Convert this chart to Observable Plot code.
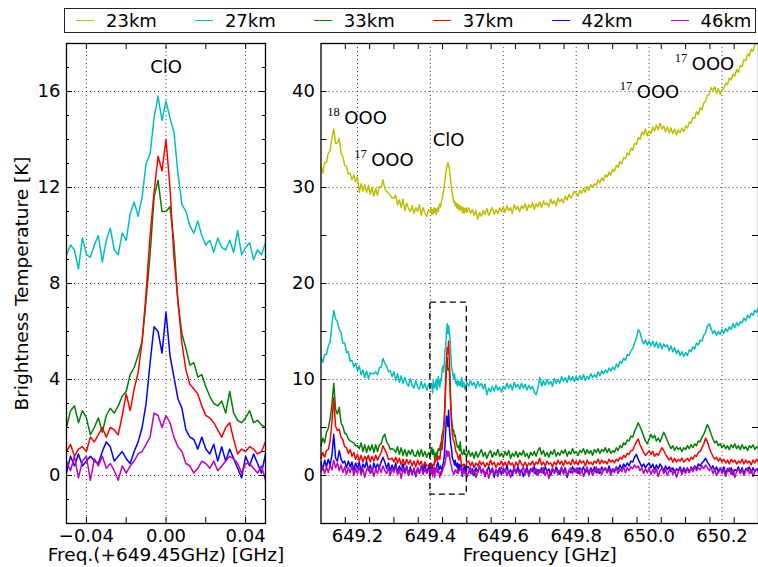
<!DOCTYPE html>
<html>
<head>
<meta charset="utf-8">
<script src="https://cdn.jsdelivr.net/npm/d3@7"></script>
<script src="https://cdn.jsdelivr.net/npm/@observablehq/plot@0.6"></script>
<style>
  body { margin: 0; background: #fff; font-family: "DejaVu Sans", sans-serif; }
  #chart { position: relative; width: 758px; height: 567px; overflow: hidden; background: #fff; }
  #chart svg { position: absolute; top: 0; }
  #chart svg text { -webkit-font-smoothing: antialiased; }
  #legend { position: absolute; left: 64px; top: 8px; width: 692px; height: 25px;
            border: 1.5px solid #222; box-sizing: border-box; background: #fff; z-index: 2; }
  #legend .item { position: absolute; top: 0; height: 100%; display: flex; align-items: center;
                  font-size: 18px; color: #000; white-space: nowrap; }
  #legend .swatch { display: inline-block; width: 18px; height: 0; border-top: 1.3px solid; margin-right: 12px; }
</style>
</head>
<body>
<div id="chart"><div id="legend"></div></div>
<script>
// Limb spectra around the 649.45 GHz ClO line, one curve per tangent altitude.
const altitudes = ["23km", "27km", "33km", "37km", "42km", "46km"];
const altitudeColors = ["#bfbf00", "#00bfbf", "#008000", "#ff0000", "#0000ff", "#bf00bf"];

// Brightness temperature [K], 649.100 - 649.395 GHz, 5 MHz channels
const t23Low = [
  32.2,31.5,32.6,32.6,33.6,33.8,35.2,36.1,34.6,34.6,
  35.1,33.6,33.2,32.3,32.2,31.4,31.5,30.8,31.3,30.6,
  31.1,29.5,30.4,29.6,30.3,29.5,30.2,29.3,30.0,29.1,
  29.9,29.2,30.1,30.0,30.8,29.9,29.6,29.4,29.2,28.9,
  28.9,29.2,28.2,28.7,27.9,28.8,27.6,28.4,27.8,27.5,
  28.1,27.3,27.9,27.5,28.2,27.1,27.9,27.4,27.0,27.7];
const t27Low = [
  12.3,11.8,12.6,12.6,13.5,13.9,15.7,17.2,16.3,16.0,
  15.2,14.9,13.8,13.8,12.8,12.9,11.9,12.0,11.3,11.7,
  10.9,11.4,10.5,11.0,10.2,10.9,10.1,10.7,10.6,10.6,
  10.8,10.5,11.2,11.3,12.2,11.7,11.4,10.8,10.9,10.3,
  10.8,9.9,10.6,9.7,10.4,9.6,10.2,9.6,9.3,10.1,
  9.4,9.1,9.9,9.2,9.0,9.8,9.1,9.6,8.9,9.5];
const t33Low = [
  3.1,3.9,3.4,4.5,4.9,5.9,7.4,9.6,6.9,6.4,
  7.1,5.5,5.1,4.4,4.3,3.8,3.6,3.5,3.4,3.1,
  3.1,2.8,3.4,2.5,3.2,2.4,3.1,2.6,3.2,2.4,
  3.2,2.5,3.2,3.3,4.0,4.3,3.5,3.2,2.7,2.8,
  2.7,2.4,3.0,2.2,2.9,2.1,2.7,2.0,2.6,2.2,
  2.7,2.1,2.0,2.6,2.0,2.7,2.0,2.5,1.9,2.4];
const t37Low = [
  1.8,2.4,1.9,2.6,2.7,3.6,5.6,8.1,5.1,4.7,
  4.8,4.0,3.7,3.0,2.9,2.3,2.7,2.0,2.4,1.7,
  2.2,1.5,2.1,1.4,2.0,1.6,2.1,1.4,2.0,1.5,
  2.1,1.6,2.0,2.4,3.1,2.7,2.3,1.7,1.7,1.8,
  1.4,1.9,1.3,1.8,1.1,1.7,1.1,1.7,1.2,1.6,
  1.0,1.5,0.9,1.6,1.1,1.5,0.8,1.4,1.0,1.1];
const t42Low = [
  1.4,0.6,1.6,0.9,1.7,1.1,2.1,4.3,1.8,1.5,
  2.6,1.7,1.3,1.5,0.8,1.5,0.9,1.4,0.5,1.3,
  0.7,1.4,0.4,1.2,0.8,1.5,0.5,1.1,0.3,1.3,
  0.7,1.2,0.8,1.4,1.9,1.4,0.7,1.3,0.5,1.1,
  0.6,1.3,0.3,1.0,0.5,1.2,0.3,1.0,0.1,0.9,
  0.1,0.7,-0.1,0.8,0.2,1.0,0.4,1.1,0.3,0.9];
const t46Low = [
  0.4,1.0,0.2,0.9,0.3,1.1,0.6,1.6,0.8,1.3,
  0.5,1.1,0.3,0.9,0.1,0.8,0.3,1.0,0.0,0.7,
  0.2,0.9,0.1,0.7,-0.2,0.6,0.9,0.2,0.8,-0.1,
  0.7,0.2,0.9,0.3,1.0,0.5,0.2,0.8,0.0,0.7,
  0.3,1.0,0.1,0.6,-0.3,0.7,0.2,0.9,0.0,0.6,
  0.2,0.8,-0.1,0.7,0.3,0.9,0.1,0.7,0.2,0.6];

// Brightness temperature [K], offsets -0.050 ... +0.050 GHz from 649.45 GHz, 2 MHz channels
const t23Zoom = [
  27.4,27.9,27.2,27.7,27.3,27.9,27.4,27.8,27.2,27.6,
  27.9,27.5,28.0,28.3,28.0,28.5,28.8,29.2,29.6,30.2,
  30.8,31.4,31.9,32.3,32.6,32.3,32.0,31.3,30.6,30.0,
  29.4,29.0,28.5,28.6,28.1,28.4,27.9,28.3,27.8,28.2,
  27.6,28.1,27.7,28.0,27.4,27.9,27.3,27.8,27.5,27.9,
  27.4];
const t27Zoom = [
  9.2,9.6,9.4,8.6,9.9,9.2,9.1,9.6,10.0,8.9,
  9.8,10.3,9.4,9.2,10.1,9.8,10.9,11.4,10.8,11.6,
  13.0,13.4,14.9,15.8,14.8,15.6,14.9,14.3,12.6,11.3,
  11.0,10.4,10.1,10.6,10.0,9.6,9.8,9.3,9.9,9.5,
  9.4,9.8,9.3,10.2,9.2,9.5,9.7,9.0,9.4,9.2,
  9.7];
const t33Zoom = [
  2.0,2.7,2.9,2.2,2.7,2.4,1.7,2.0,2.4,1.8,
  2.5,2.8,2.6,2.9,3.3,3.5,4.2,4.5,5.0,5.6,
  7.3,9.2,11.6,12.3,11.0,11.0,11.2,9.7,7.2,5.9,
  5.3,4.6,4.7,4.1,4.2,3.7,3.3,3.0,2.9,3.1,
  2.6,3.5,2.6,2.3,2.2,2.4,2.7,2.2,2.3,2.1,
  2.0];
const t37Zoom = [
  1.0,1.3,0.8,1.1,1.2,1.0,1.6,1.4,1.7,2.0,
  1.6,2.0,1.9,1.7,2.5,3.4,2.7,3.6,4.3,5.6,
  7.6,10.0,11.8,13.3,12.7,14.0,12.0,9.1,7.3,5.5,
  4.4,3.8,3.6,3.4,2.9,2.5,2.4,2.2,1.9,1.6,
  2.0,2.2,1.5,0.9,1.1,1.0,1.2,1.1,0.9,1.0,
  1.4];
const t42Zoom = [
  0.1,0.8,0.4,0.9,0.4,0.6,0.8,0.6,0.5,1.0,
  1.4,1.2,0.6,0.8,1.0,0.7,0.5,1.0,1.4,2.0,
  3.0,4.7,6.2,6.0,5.1,6.8,5.0,4.1,3.2,2.8,
  1.9,1.6,1.5,1.1,1.6,1.1,0.9,1.3,0.6,1.2,
  0.6,1.1,0.7,0.3,-0.1,0.8,0.4,0.9,0.5,0.1,
  0.9];
const t46Zoom = [
  0.6,0.2,0.8,-0.1,0.6,0.8,-0.2,0.7,0.4,0.8,
  0.3,0.5,0.2,-0.2,0.4,0.1,0.4,0.6,0.9,1.0,
  1.3,1.6,2.6,2.5,2.0,2.5,2.2,1.6,1.2,1.0,
  0.5,0.4,0.1,0.3,0.6,0.5,0.3,0.6,0.2,0.4,
  0.6,0.8,0.7,0.5,0.1,0.5,0.5,0.3,0.1,0.4,
  -0.2];

// Brightness temperature [K], 649.505 - 650.300 GHz, 5 MHz channels
const t23High = [
  27.9,27.3,27.7,27.1,27.6,26.7,27.4,27.0,27.6,27.2,
  27.8,27.1,27.5,27.9,27.2,27.7,27.3,27.9,27.5,28.0,
  27.4,28.1,27.6,27.9,27.3,28.2,27.7,28.0,27.5,28.1,
  27.8,28.3,27.6,28.2,27.9,28.4,27.7,28.3,28.0,28.5,
  27.9,28.6,28.2,28.4,28.0,28.8,28.3,28.6,28.1,28.9,
  28.5,28.8,28.4,29.1,28.7,29.3,28.9,29.2,29.6,29.4,
  29.1,29.7,29.4,29.9,29.5,30.1,29.7,30.3,30.0,30.4,
  30.2,30.8,30.5,31.0,30.7,31.3,31.1,31.6,31.3,31.9,
  31.7,32.3,32.1,32.7,32.5,33.1,33.0,33.6,33.4,34.1,
  33.9,34.6,34.5,35.2,35.0,35.8,35.5,36.1,35.4,35.9,
  35.6,36.3,35.9,36.5,36.0,36.7,36.1,36.4,35.8,36.3,
  35.7,36.2,35.6,36.1,35.5,36.0,35.7,36.2,35.8,36.4,
  36.2,36.8,36.7,37.3,37.2,37.9,37.6,38.3,38.1,38.8,
  39.0,39.6,39.7,40.4,40.1,40.5,39.8,40.3,39.7,40.2,
  40.3,40.9,40.7,41.4,41.2,41.8,41.6,42.3,42.0,42.7,
  42.6,43.3,43.2,43.9,43.7,44.4,44.2,44.9,45.0,45.6];
const t27High = [
  9.3,9.9,9.4,9.7,9.1,9.8,9.3,9.6,9.0,9.5,
  8.4,9.1,8.7,9.3,8.8,9.4,8.9,9.2,8.7,9.3,
  9.0,9.6,9.1,9.5,8.9,9.7,9.2,9.5,9.0,9.6,
  9.1,9.5,8.9,9.4,9.0,9.3,8.7,8.4,9.1,10.2,
  9.3,9.9,9.4,10.0,9.5,9.8,9.3,10.1,9.6,10.0,
  9.6,10.3,9.8,10.2,9.7,10.4,9.9,10.3,9.8,10.3,
  9.9,10.4,10.0,10.5,9.9,10.3,10.1,10.6,10.2,10.5,
  10.2,10.8,10.4,10.9,10.6,11.0,10.7,11.2,10.9,11.3,
  11.0,11.6,11.3,11.9,11.7,12.2,12.0,12.6,12.5,13.0,
  13.2,13.8,14.3,15.2,14.9,14.2,13.7,14.1,13.6,14.0,
  13.5,14.0,13.4,13.9,13.3,13.8,13.2,13.7,13.4,13.6,
  13.0,13.5,12.9,13.3,12.7,13.1,12.5,12.9,12.4,12.8,
  12.5,13.1,12.9,13.4,13.2,13.8,13.6,14.1,14.0,14.6,
  14.9,15.6,15.8,15.3,14.8,15.1,14.6,15.0,14.7,15.2,
  14.8,15.3,15.0,15.5,15.2,15.8,15.4,15.9,15.6,16.0,
  15.9,16.4,16.1,16.7,16.4,16.9,16.7,17.2,17.0,17.5];
const t33High = [
  2.6,2.0,2.4,1.8,2.5,1.9,2.3,2.7,2.0,2.4,
  1.8,2.3,2.6,1.9,2.4,2.1,2.7,2.0,2.3,1.9,
  2.5,2.1,2.6,1.8,2.3,2.0,2.5,1.9,2.4,2.1,
  2.6,2.0,2.3,1.8,2.4,2.1,2.5,2.0,2.6,2.9,
  2.2,2.6,2.0,2.4,1.9,2.5,2.2,2.7,2.0,2.4,
  2.1,2.6,2.3,2.7,2.0,2.5,2.2,2.8,2.3,2.5,
  2.1,2.6,2.4,2.8,2.2,2.7,2.3,2.6,2.1,2.7,
  2.4,2.8,2.3,2.7,2.5,2.9,2.4,2.8,2.3,2.6,
  2.4,2.9,2.6,3.1,2.9,3.4,3.2,3.7,3.6,4.1,
  4.0,4.6,5.0,5.5,5.1,4.6,4.1,3.6,3.3,3.8,
  4.3,3.9,4.2,3.6,3.9,3.5,4.0,4.5,4.1,3.6,
  3.2,2.8,3.1,2.6,3.0,2.7,2.9,2.5,2.9,2.7,
  3.1,2.8,3.2,2.9,3.3,3.1,3.6,3.5,4.0,4.3,
  4.8,5.3,4.9,4.3,3.8,3.4,3.6,3.1,3.3,2.9,
  3.2,2.8,3.1,2.7,3.2,2.9,3.3,2.8,3.1,2.7,
  3.2,2.8,3.0,2.6,3.1,2.9,3.2,2.7,3.0,2.8];
const t37High = [
  1.5,1.0,1.4,0.8,1.3,1.0,1.5,1.1,1.4,0.9,
  1.3,1.0,1.6,1.1,1.4,0.8,1.3,1.1,1.5,1.0,
  1.4,0.9,1.5,1.1,1.3,0.8,1.4,1.0,1.6,1.2,
  1.0,1.4,0.9,1.3,1.1,1.5,1.0,1.4,1.2,1.8,
  1.1,1.4,1.0,1.5,1.2,1.3,0.9,1.4,1.1,1.6,
  1.2,1.5,1.0,1.6,1.2,1.4,1.1,1.7,1.2,1.5,
  1.1,1.6,1.3,1.5,1.0,1.6,1.2,1.4,1.1,1.5,
  1.3,1.7,1.2,1.6,1.3,1.5,1.2,1.7,1.4,1.6,
  1.3,1.7,1.5,1.9,1.7,2.1,1.9,2.3,2.2,2.6,
  2.6,3.1,3.5,3.8,3.2,2.8,2.4,2.1,2.3,2.6,
  2.2,2.5,2.0,2.3,2.1,2.5,2.9,2.6,2.2,1.9,
  1.6,1.9,1.4,1.8,1.4,1.7,1.5,1.8,1.4,1.6,
  1.8,1.5,1.9,1.7,2.1,2.0,2.4,2.5,2.9,3.3,
  3.9,3.5,2.9,2.4,2.0,1.7,1.9,1.5,1.8,1.4,
  1.7,1.3,1.6,1.2,1.7,1.4,1.6,1.2,1.5,1.3,
  1.7,1.2,1.6,1.3,1.5,1.1,1.6,1.3,1.7,1.4];
const t42High = [
  0.9,0.2,0.7,0.0,0.8,0.3,1.0,0.4,0.6,-0.1,
  0.5,0.9,0.2,0.7,-0.2,0.6,0.3,0.8,0.1,0.7,
  0.4,1.0,0.2,0.6,0.0,0.8,0.3,0.9,0.4,0.6,
  -0.1,0.5,0.8,0.2,0.7,0.4,0.9,0.1,0.6,0.3,
  0.8,0.2,0.9,0.4,0.7,0.0,0.6,0.3,0.9,0.5,
  0.1,0.7,0.4,0.8,-0.2,0.5,0.3,0.9,0.4,0.7,
  0.2,0.8,0.5,0.9,0.3,0.6,0.1,0.8,0.4,0.9,
  0.3,0.7,0.2,0.9,0.5,0.8,0.3,1.0,0.4,0.7,
  0.5,0.9,0.6,1.1,0.7,1.2,0.9,1.3,1.0,1.5,
  1.4,1.9,2.2,1.7,1.3,0.9,1.2,0.8,1.1,1.3,
  0.8,1.2,0.6,1.1,0.7,1.2,0.9,0.5,1.0,0.6,
  0.9,0.4,0.8,0.3,0.7,0.5,0.9,0.3,0.8,0.4,
  0.8,0.3,0.9,0.6,1.0,0.7,1.2,1.0,1.3,1.5,
  1.8,1.4,1.1,0.7,1.0,0.5,0.9,0.3,0.8,0.4,
  0.9,0.2,0.7,0.4,0.8,0.1,0.6,0.5,0.9,0.3,
  0.8,0.2,0.7,0.5,0.9,0.3,0.8,0.4,0.7,0.6];
const t46High = [
  0.4,0.8,0.1,0.6,-0.2,0.5,0.9,0.2,0.7,0.0,
  0.6,-0.3,0.4,0.8,0.1,0.6,-0.1,0.5,0.9,0.2,
  0.7,0.0,0.5,-0.2,0.4,0.8,0.2,0.6,0.0,0.5,
  0.9,0.1,0.6,-0.1,0.5,0.8,0.2,0.7,0.0,0.6,
  0.3,0.8,0.0,0.5,-0.3,0.4,0.8,0.2,0.6,0.1,
  0.5,0.9,0.1,0.6,0.0,0.5,0.8,0.2,0.7,0.3,
  0.8,0.1,0.6,-0.1,0.5,0.9,0.2,0.6,0.0,0.5,
  0.9,0.2,0.7,0.1,0.6,0.8,0.3,0.7,0.0,0.6,
  0.3,0.8,0.2,0.7,0.4,0.9,0.3,0.8,0.5,0.9,
  0.7,1.1,0.8,1.0,0.5,0.8,0.2,0.7,0.3,0.8,
  0.1,0.6,0.2,0.7,-0.1,0.5,0.8,0.2,0.6,0.0,
  0.5,0.8,0.1,0.6,-0.2,0.4,0.7,0.1,0.6,0.2,
  0.7,0.3,0.8,0.4,0.9,0.5,0.8,0.6,1.0,0.7,
  1.1,0.8,0.5,0.9,0.2,0.6,0.0,0.5,0.8,0.2,
  0.6,-0.1,0.5,0.8,0.1,0.6,-0.2,0.4,0.7,0.2,
  0.6,0.0,0.5,0.8,0.2,0.6,-0.1,0.5,0.7,0.3];

// Axis ticks
const zoomTicksX = [-0.04, 0, 0.04];
const zoomTicksY = [0, 4, 8, 12, 16];
const wideTicksX = [649.2, 649.4, 649.6, 649.8, 650.0, 650.2];
const wideTicksY = [0, 10, 20, 30, 40];

// Line labels
const clo = "ClO";
const isotopeLines = [
  {iso: "18", x: 649.164, y: 37.2},
  {iso: "17", x: 649.2375, y: 32.8},
  {iso: "17", x: 649.966, y: 39.9},
  {iso: "17", x: 650.117, y: 42.8}
];
const cloWide = {x: 649.45, y: 34.9};
const cloZoom = {x: 0, y: 17.0};
const zoomWindow = {x1: 649.40, x2: 649.50, y1: -2, y2: 18};

// ---- channel grids and long-format rows ----
const rnd = v => Math.round(v * 10000) / 10000;
const LINE_CENTER = 649.45;
const freqLow = d3.range(60).map(i => rnd(649.10 + i * 0.005));
const zoomOffset = d3.range(51).map(i => rnd(-0.05 + i * 0.002));
const freqHigh = d3.range(160).map(i => rnd(649.505 + i * 0.005));

const lows = [t23Low, t27Low, t33Low, t37Low, t42Low, t46Low];
const zooms = [t23Zoom, t27Zoom, t33Zoom, t37Zoom, t42Zoom, t46Zoom];
const highs = [t23High, t27High, t33High, t37High, t42High, t46High];

const wideRows = altitudes.flatMap((km, k) => [
  ...freqLow.map((f, i) => ({km, f, T: lows[k][i]})),
  ...zoomOffset.map((o, i) => ({km, f: rnd(LINE_CENTER + o), T: zooms[k][i]})),
  ...freqHigh.map((f, i) => ({km, f, T: highs[k][i]}))
]);
const zoomRows = altitudes.flatMap((km, k) =>
  zoomOffset.map((o, i) => ({km, df: o, T: zooms[k][i]})));

// ---- shared styling helpers ----
const FRAME_H = 480;
const gridStyle = {stroke: "#000", strokeWidth: 1, strokeDasharray: "1,3", strokeOpacity: 0.75};
function edgeTicksX(values, len) {
  return [
    Plot.tickX(values, {x: d => d, insetTop: FRAME_H - len, stroke: "#000", strokeWidth: 1}),
    Plot.tickX(values, {x: d => d, insetBottom: FRAME_H - len, stroke: "#000", strokeWidth: 1})
  ];
}
function edgeTicksY(values, len, frameW) {
  return [
    Plot.tickY(values, {y: d => d, insetRight: frameW - len, stroke: "#000", strokeWidth: 1}),
    Plot.tickY(values, {y: d => d, insetLeft: frameW - len, stroke: "#000", strokeWidth: 1})
  ];
}
const svgStyle = {fontFamily: "DejaVu Sans", fontSize: "18px", background: "transparent", overflow: "visible", color: "#000"};
const colorScale = {domain: altitudes, range: altitudeColors};
const axisLabelStyle = {fontSize: 18.5, fill: "#000", lineAnchor: "middle", textAnchor: "middle"};

// ---- left panel: zoom on the ClO line ----
const zoomW = 300, zoomML = 66, zoomMR = 35;
const zoomPlot = Plot.plot({
  width: zoomW, height: 567,
  marginTop: 43, marginBottom: 44, marginLeft: zoomML, marginRight: zoomMR,
  style: svgStyle,
  x: {domain: [-0.05, 0.05], ticks: zoomTicksX, tickFormat: d3.format(".2f"), tickSize: 0, tickPadding: 6, label: null},
  y: {domain: [-2, 18], ticks: zoomTicksY, tickSize: 0, tickPadding: 6, label: null},
  color: colorScale,
  marks: [
    Plot.ruleX(zoomTicksX, {x: d => d, ...gridStyle}),
    Plot.ruleY(zoomTicksY, {y: d => d, ...gridStyle}),
    Plot.line(zoomRows, {x: "df", y: "T", z: "km", stroke: "km", strokeWidth: 1.5, clip: true}),
    Plot.frame({stroke: "#000", strokeWidth: 1.3}),
    ...edgeTicksX([-0.04, -0.02, 0, 0.02, 0.04], 6),
    ...edgeTicksY(zoomTicksY, 6, zoomW - zoomML - zoomMR),
    ...edgeTicksY(d3.range(-1, 18).filter(v => v % 4 !== 0), 3, zoomW - zoomML - zoomMR),
    Plot.text([cloZoom], {x: "x", y: "y", text: () => clo, fontSize: 18, fill: "#000"}),
    Plot.text(["Brightness Temperature [K]"], {frameAnchor: "left", rotate: -90, dx: -44.5, ...axisLabelStyle}),
    Plot.text(["Freq.(+649.45GHz) [GHz]"], {frameAnchor: "bottom", dy: 32, ...axisLabelStyle})
  ]
});
zoomPlot.style.left = "0px";

// ---- right panel: full band ----
const wideW = 478, wideML = 40.5, wideMR = 0;
const wideFrameW = wideW - wideML - wideMR;
const widePlot = Plot.plot({
  width: wideW, height: 567,
  marginTop: 43, marginBottom: 44, marginLeft: wideML, marginRight: wideMR,
  style: svgStyle,
  x: {domain: [649.1, 650.3], ticks: wideTicksX, tickFormat: d3.format(".1f"), tickSize: 0, tickPadding: 6, label: null},
  y: {domain: [-5, 45], ticks: wideTicksY, tickSize: 0, tickPadding: 6, label: null},
  color: colorScale,
  marks: [
    Plot.ruleX(wideTicksX, {x: d => d, ...gridStyle}),
    Plot.ruleY(wideTicksY, {y: d => d, ...gridStyle}),
    Plot.line(wideRows, {x: "f", y: "T", z: "km", stroke: "km", strokeWidth: 1.5, clip: true}),
    Plot.rect([zoomWindow], {x1: "x1", x2: "x2", y1: "y1", y2: "y2", fill: "none", stroke: "#000", strokeWidth: 1.3, strokeDasharray: "6,4"}),
    Plot.frame({stroke: "#000", strokeWidth: 1.3}),
    ...edgeTicksX(d3.range(0, 19).map(i => rnd(649.1 + i * 0.2 / 3)).filter(v => v > 649.1 && v < 650.3), 6),
    ...edgeTicksY([-5, 0, 5, 10, 15, 20, 25, 30, 35, 40], 6, wideFrameW),
    Plot.text([cloWide], {x: "x", y: "y", text: () => clo, fontSize: 18, fill: "#000"}),
    Plot.text(isotopeLines, {x: "x", y: "y", text: () => "OOO", textAnchor: "start", fontSize: 18, fill: "#000"}),
    Plot.text(isotopeLines, {x: "x", y: "y", text: "iso", textAnchor: "end", dx: -4.5, dy: -6.5, fontSize: 12.5, fontFamily: "Liberation Serif", fill: "black"}),
    Plot.text(["Frequency [GHz]"], {frameAnchor: "bottom", dy: 32, ...axisLabelStyle})
  ]
});
widePlot.style.left = "280px";

const chart = document.getElementById("chart");
chart.insertBefore(zoomPlot, chart.firstChild);
chart.insertBefore(widePlot, document.getElementById("legend"));

// ---- legend ----
const legend = document.getElementById("legend");
altitudes.forEach((km, i) => {
  const item = document.createElement("div");
  item.className = "item";
  item.style.left = (11 + i * 118.9) + "px";
  const sw = document.createElement("span");
  sw.className = "swatch";
  sw.style.borderTopColor = altitudeColors[i];
  item.appendChild(sw);
  item.appendChild(document.createTextNode(km));
  legend.appendChild(item);
});
</script>
</body>
</html>
